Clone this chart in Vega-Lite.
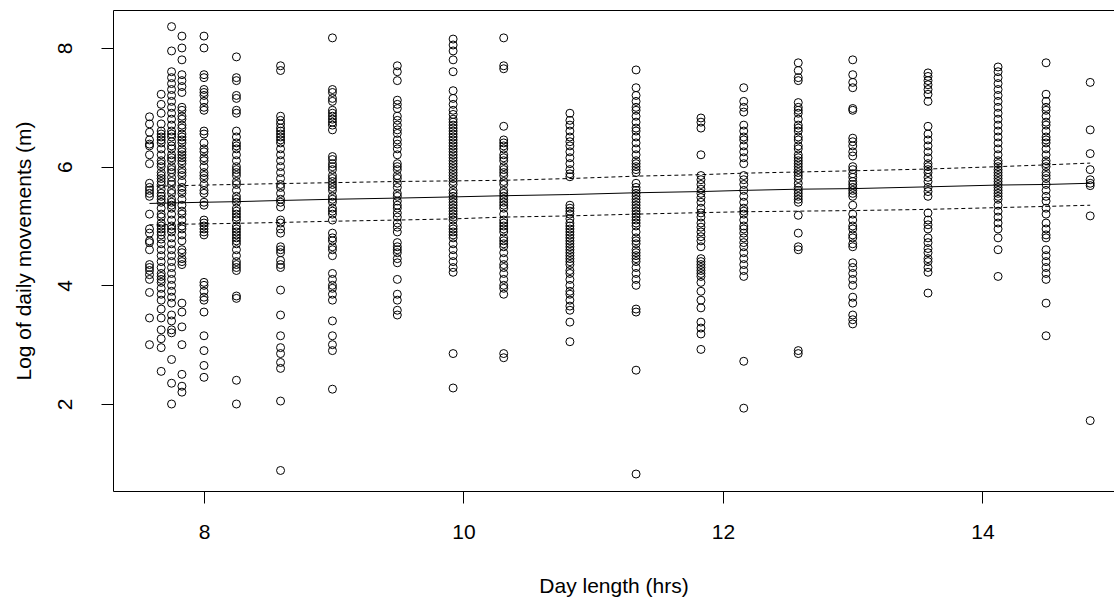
{
  "$schema": "https://vega.github.io/schema/vega-lite/v6.json",
  "width": 1001,
  "height": 481,
  "autosize": {"type": "none"},
  "padding": {"left": 113, "top": 10, "right": 0, "bottom": 109},
  "background": "white",
  "view": {"stroke": null},
  "config": {
    "view": {"stroke": null},
    "axis": {
      "grid": false,
      "domainColor": "black",
      "domainWidth": 1,
      "tickColor": "black",
      "tickWidth": 1,
      "tickSize": 12,
      "labelColor": "black",
      "titleColor": "black",
      "labelFont": "Liberation Sans",
      "titleFont": "Liberation Sans",
      "labelFontSize": 21,
      "titleFontSize": 21,
      "titleFontWeight": "normal"
    }
  },
  "datasets": {
    "pts": [
      {"day":7.58,"move":6.84},{"day":7.58,"move":6.72},{"day":7.58,"move":6.58},{"day":7.58,"move":6.45},{"day":7.58,"move":6.38},{"day":7.58,"move":6.35},{"day":7.58,"move":6.2},{"day":7.58,"move":6.05},{"day":7.58,"move":5.72},{"day":7.58,"move":5.65},{"day":7.58,"move":5.6},{"day":7.58,"move":5.55},{"day":7.58,"move":5.5},{"day":7.58,"move":5.2},{"day":7.58,"move":4.95},{"day":7.58,"move":4.88},{"day":7.58,"move":4.75},{"day":7.58,"move":4.72},{"day":7.58,"move":4.6},{"day":7.58,"move":4.35},{"day":7.58,"move":4.3},{"day":7.58,"move":4.25},{"day":7.58,"move":4.18},{"day":7.58,"move":4.1},{"day":7.58,"move":3.88},{"day":7.58,"move":3.45},{"day":7.58,"move":3.0},
      {"day":7.67,"move":7.22},{"day":7.67,"move":7.05},{"day":7.67,"move":6.9},{"day":7.67,"move":6.72},{"day":7.67,"move":6.6},{"day":7.67,"move":6.55},{"day":7.67,"move":6.5},{"day":7.67,"move":6.45},{"day":7.67,"move":6.4},{"day":7.67,"move":6.3},{"day":7.67,"move":6.2},{"day":7.67,"move":6.1},{"day":7.67,"move":6.05},{"day":7.67,"move":6.0},{"day":7.67,"move":5.9},{"day":7.67,"move":5.85},{"day":7.67,"move":5.8},{"day":7.67,"move":5.75},{"day":7.67,"move":5.7},{"day":7.67,"move":5.62},{"day":7.67,"move":5.55},{"day":7.67,"move":5.5},{"day":7.67,"move":5.45},{"day":7.67,"move":5.4},{"day":7.67,"move":5.3},{"day":7.67,"move":5.2},{"day":7.67,"move":5.15},{"day":7.67,"move":5.05},{"day":7.67,"move":5.0},{"day":7.67,"move":4.95},{"day":7.67,"move":4.9},{"day":7.67,"move":4.85},{"day":7.67,"move":4.78},{"day":7.67,"move":4.7},{"day":7.67,"move":4.6},{"day":7.67,"move":4.5},{"day":7.67,"move":4.4},{"day":7.67,"move":4.3},{"day":7.67,"move":4.2},{"day":7.67,"move":4.15},{"day":7.67,"move":4.1},{"day":7.67,"move":4.05},{"day":7.67,"move":3.95},{"day":7.67,"move":3.85},{"day":7.67,"move":3.75},{"day":7.67,"move":3.6},{"day":7.67,"move":3.45},{"day":7.67,"move":3.25},{"day":7.67,"move":3.1},{"day":7.67,"move":2.95},{"day":7.67,"move":2.55},
      {"day":7.75,"move":8.36},{"day":7.75,"move":7.95},{"day":7.75,"move":7.6},{"day":7.75,"move":7.5},{"day":7.75,"move":7.4},{"day":7.75,"move":7.3},{"day":7.75,"move":7.2},{"day":7.75,"move":7.1},{"day":7.75,"move":7.0},{"day":7.75,"move":6.9},{"day":7.75,"move":6.8},{"day":7.75,"move":6.7},{"day":7.75,"move":6.6},{"day":7.75,"move":6.55},{"day":7.75,"move":6.5},{"day":7.75,"move":6.42},{"day":7.75,"move":6.35},{"day":7.75,"move":6.3},{"day":7.75,"move":6.2},{"day":7.75,"move":6.15},{"day":7.75,"move":6.1},{"day":7.75,"move":6.0},{"day":7.75,"move":5.95},{"day":7.75,"move":5.9},{"day":7.75,"move":5.82},{"day":7.75,"move":5.75},{"day":7.75,"move":5.7},{"day":7.75,"move":5.6},{"day":7.75,"move":5.55},{"day":7.75,"move":5.45},{"day":7.75,"move":5.4},{"day":7.75,"move":5.35},{"day":7.75,"move":5.3},{"day":7.75,"move":5.2},{"day":7.75,"move":5.1},{"day":7.75,"move":5.0},{"day":7.75,"move":4.95},{"day":7.75,"move":4.9},{"day":7.75,"move":4.8},{"day":7.75,"move":4.7},{"day":7.75,"move":4.6},{"day":7.75,"move":4.5},{"day":7.75,"move":4.4},{"day":7.75,"move":4.3},{"day":7.75,"move":4.2},{"day":7.75,"move":4.1},{"day":7.75,"move":4.0},{"day":7.75,"move":3.9},{"day":7.75,"move":3.8},{"day":7.75,"move":3.7},{"day":7.75,"move":3.5},{"day":7.75,"move":3.4},{"day":7.75,"move":3.25},{"day":7.75,"move":3.2},{"day":7.75,"move":2.75},{"day":7.75,"move":2.35},{"day":7.75,"move":2.0},
      {"day":7.83,"move":8.2},{"day":7.83,"move":8.0},{"day":7.83,"move":7.8},{"day":7.83,"move":7.55},{"day":7.83,"move":7.45},{"day":7.83,"move":7.35},{"day":7.83,"move":7.25},{"day":7.83,"move":7.0},{"day":7.83,"move":6.95},{"day":7.83,"move":6.85},{"day":7.83,"move":6.8},{"day":7.83,"move":6.7},{"day":7.83,"move":6.65},{"day":7.83,"move":6.55},{"day":7.83,"move":6.5},{"day":7.83,"move":6.45},{"day":7.83,"move":6.4},{"day":7.83,"move":6.3},{"day":7.83,"move":6.25},{"day":7.83,"move":6.2},{"day":7.83,"move":6.15},{"day":7.83,"move":6.1},{"day":7.83,"move":6.05},{"day":7.83,"move":5.95},{"day":7.83,"move":5.9},{"day":7.83,"move":5.85},{"day":7.83,"move":5.75},{"day":7.83,"move":5.65},{"day":7.83,"move":5.6},{"day":7.83,"move":5.55},{"day":7.83,"move":5.45},{"day":7.83,"move":5.35},{"day":7.83,"move":5.25},{"day":7.83,"move":5.2},{"day":7.83,"move":5.1},{"day":7.83,"move":5.0},{"day":7.83,"move":4.95},{"day":7.83,"move":4.85},{"day":7.83,"move":4.75},{"day":7.83,"move":4.6},{"day":7.83,"move":4.55},{"day":7.83,"move":4.45},{"day":7.83,"move":4.4},{"day":7.83,"move":4.35},{"day":7.83,"move":3.7},{"day":7.83,"move":3.55},{"day":7.83,"move":3.3},{"day":7.83,"move":3.0},{"day":7.83,"move":2.5},{"day":7.83,"move":2.3},{"day":7.83,"move":2.2},
      {"day":8.0,"move":8.2},{"day":8.0,"move":8.0},{"day":8.0,"move":7.55},{"day":8.0,"move":7.5},{"day":8.0,"move":7.3},{"day":8.0,"move":7.25},{"day":8.0,"move":7.2},{"day":8.0,"move":7.1},{"day":8.0,"move":7.0},{"day":8.0,"move":6.95},{"day":8.0,"move":6.6},{"day":8.0,"move":6.55},{"day":8.0,"move":6.4},{"day":8.0,"move":6.3},{"day":8.0,"move":6.25},{"day":8.0,"move":6.15},{"day":8.0,"move":6.1},{"day":8.0,"move":6.0},{"day":8.0,"move":5.9},{"day":8.0,"move":5.85},{"day":8.0,"move":5.8},{"day":8.0,"move":5.7},{"day":8.0,"move":5.6},{"day":8.0,"move":5.55},{"day":8.0,"move":5.4},{"day":8.0,"move":5.35},{"day":8.0,"move":5.1},{"day":8.0,"move":5.05},{"day":8.0,"move":5.0},{"day":8.0,"move":4.95},{"day":8.0,"move":4.9},{"day":8.0,"move":4.85},{"day":8.0,"move":4.05},{"day":8.0,"move":4.0},{"day":8.0,"move":3.9},{"day":8.0,"move":3.8},{"day":8.0,"move":3.75},{"day":8.0,"move":3.55},{"day":8.0,"move":3.15},{"day":8.0,"move":2.9},{"day":8.0,"move":2.65},{"day":8.0,"move":2.45},
      {"day":8.25,"move":7.85},{"day":8.25,"move":7.5},{"day":8.25,"move":7.45},{"day":8.25,"move":7.2},{"day":8.25,"move":7.15},{"day":8.25,"move":6.95},{"day":8.25,"move":6.9},{"day":8.25,"move":6.6},{"day":8.25,"move":6.5},{"day":8.25,"move":6.4},{"day":8.25,"move":6.35},{"day":8.25,"move":6.3},{"day":8.25,"move":6.2},{"day":8.25,"move":6.1},{"day":8.25,"move":6.0},{"day":8.25,"move":5.95},{"day":8.25,"move":5.9},{"day":8.25,"move":5.85},{"day":8.25,"move":5.75},{"day":8.25,"move":5.7},{"day":8.25,"move":5.6},{"day":8.25,"move":5.5},{"day":8.25,"move":5.45},{"day":8.25,"move":5.4},{"day":8.25,"move":5.3},{"day":8.25,"move":5.25},{"day":8.25,"move":5.2},{"day":8.25,"move":5.15},{"day":8.25,"move":5.1},{"day":8.25,"move":5.0},{"day":8.25,"move":4.95},{"day":8.25,"move":4.9},{"day":8.25,"move":4.85},{"day":8.25,"move":4.8},{"day":8.25,"move":4.75},{"day":8.25,"move":4.7},{"day":8.25,"move":4.6},{"day":8.25,"move":4.5},{"day":8.25,"move":4.4},{"day":8.25,"move":4.35},{"day":8.25,"move":4.3},{"day":8.25,"move":4.25},{"day":8.25,"move":3.82},{"day":8.25,"move":3.78},{"day":8.25,"move":2.4},{"day":8.25,"move":2.0},
      {"day":8.59,"move":7.7},{"day":8.59,"move":7.62},{"day":8.59,"move":6.85},{"day":8.59,"move":6.78},{"day":8.59,"move":6.72},{"day":8.59,"move":6.65},{"day":8.59,"move":6.6},{"day":8.59,"move":6.55},{"day":8.59,"move":6.5},{"day":8.59,"move":6.45},{"day":8.59,"move":6.4},{"day":8.59,"move":6.3},{"day":8.59,"move":6.2},{"day":8.59,"move":6.1},{"day":8.59,"move":6.0},{"day":8.59,"move":5.9},{"day":8.59,"move":5.8},{"day":8.59,"move":5.7},{"day":8.59,"move":5.65},{"day":8.59,"move":5.55},{"day":8.59,"move":5.45},{"day":8.59,"move":5.4},{"day":8.59,"move":5.32},{"day":8.59,"move":5.1},{"day":8.59,"move":5.05},{"day":8.59,"move":4.95},{"day":8.59,"move":4.88},{"day":8.59,"move":4.65},{"day":8.59,"move":4.6},{"day":8.59,"move":4.55},{"day":8.59,"move":4.42},{"day":8.59,"move":4.35},{"day":8.59,"move":4.3},{"day":8.59,"move":3.92},{"day":8.59,"move":3.5},{"day":8.59,"move":3.15},{"day":8.59,"move":2.95},{"day":8.59,"move":2.85},{"day":8.59,"move":2.7},{"day":8.59,"move":2.6},{"day":8.59,"move":2.05},{"day":8.59,"move":0.88},
      {"day":8.99,"move":8.17},{"day":8.99,"move":7.3},{"day":8.99,"move":7.25},{"day":8.99,"move":7.15},{"day":8.99,"move":7.1},{"day":8.99,"move":6.95},{"day":8.99,"move":6.9},{"day":8.99,"move":6.85},{"day":8.99,"move":6.8},{"day":8.99,"move":6.75},{"day":8.99,"move":6.7},{"day":8.99,"move":6.62},{"day":8.99,"move":6.17},{"day":8.99,"move":6.12},{"day":8.99,"move":6.05},{"day":8.99,"move":6.0},{"day":8.99,"move":5.95},{"day":8.99,"move":5.85},{"day":8.99,"move":5.8},{"day":8.99,"move":5.75},{"day":8.99,"move":5.7},{"day":8.99,"move":5.65},{"day":8.99,"move":5.6},{"day":8.99,"move":5.5},{"day":8.99,"move":5.45},{"day":8.99,"move":5.4},{"day":8.99,"move":5.3},{"day":8.99,"move":5.25},{"day":8.99,"move":5.2},{"day":8.99,"move":5.1},{"day":8.99,"move":4.88},{"day":8.99,"move":4.8},{"day":8.99,"move":4.75},{"day":8.99,"move":4.65},{"day":8.99,"move":4.6},{"day":8.99,"move":4.5},{"day":8.99,"move":4.2},{"day":8.99,"move":4.1},{"day":8.99,"move":4.0},{"day":8.99,"move":3.95},{"day":8.99,"move":3.85},{"day":8.99,"move":3.75},{"day":8.99,"move":3.4},{"day":8.99,"move":3.15},{"day":8.99,"move":3.0},{"day":8.99,"move":2.9},{"day":8.99,"move":2.25},
      {"day":9.49,"move":7.7},{"day":9.49,"move":7.6},{"day":9.49,"move":7.45},{"day":9.49,"move":7.12},{"day":9.49,"move":7.05},{"day":9.49,"move":6.98},{"day":9.49,"move":6.85},{"day":9.49,"move":6.78},{"day":9.49,"move":6.7},{"day":9.49,"move":6.62},{"day":9.49,"move":6.56},{"day":9.49,"move":6.45},{"day":9.49,"move":6.38},{"day":9.49,"move":6.3},{"day":9.49,"move":6.2},{"day":9.49,"move":6.05},{"day":9.49,"move":6.0},{"day":9.49,"move":5.95},{"day":9.49,"move":5.85},{"day":9.49,"move":5.8},{"day":9.49,"move":5.72},{"day":9.49,"move":5.65},{"day":9.49,"move":5.55},{"day":9.49,"move":5.5},{"day":9.49,"move":5.42},{"day":9.49,"move":5.35},{"day":9.49,"move":5.3},{"day":9.49,"move":5.22},{"day":9.49,"move":5.15},{"day":9.49,"move":5.05},{"day":9.49,"move":4.98},{"day":9.49,"move":4.9},{"day":9.49,"move":4.72},{"day":9.49,"move":4.65},{"day":9.49,"move":4.6},{"day":9.49,"move":4.55},{"day":9.49,"move":4.45},{"day":9.49,"move":4.38},{"day":9.49,"move":4.1},{"day":9.49,"move":3.85},{"day":9.49,"move":3.75},{"day":9.49,"move":3.58},{"day":9.49,"move":3.5},
      {"day":9.92,"move":8.15},{"day":9.92,"move":8.05},{"day":9.92,"move":7.95},{"day":9.92,"move":7.8},{"day":9.92,"move":7.6},{"day":9.92,"move":7.28},{"day":9.92,"move":7.15},{"day":9.92,"move":7.05},{"day":9.92,"move":6.95},{"day":9.92,"move":6.88},{"day":9.92,"move":6.8},{"day":9.92,"move":6.75},{"day":9.92,"move":6.7},{"day":9.92,"move":6.65},{"day":9.92,"move":6.6},{"day":9.92,"move":6.55},{"day":9.92,"move":6.5},{"day":9.92,"move":6.45},{"day":9.92,"move":6.4},{"day":9.92,"move":6.35},{"day":9.92,"move":6.3},{"day":9.92,"move":6.25},{"day":9.92,"move":6.2},{"day":9.92,"move":6.15},{"day":9.92,"move":6.1},{"day":9.92,"move":6.05},{"day":9.92,"move":6.0},{"day":9.92,"move":5.95},{"day":9.92,"move":5.9},{"day":9.92,"move":5.85},{"day":9.92,"move":5.8},{"day":9.92,"move":5.75},{"day":9.92,"move":5.7},{"day":9.92,"move":5.6},{"day":9.92,"move":5.55},{"day":9.92,"move":5.5},{"day":9.92,"move":5.45},{"day":9.92,"move":5.4},{"day":9.92,"move":5.35},{"day":9.92,"move":5.3},{"day":9.92,"move":5.25},{"day":9.92,"move":5.2},{"day":9.92,"move":5.15},{"day":9.92,"move":5.1},{"day":9.92,"move":5.0},{"day":9.92,"move":4.95},{"day":9.92,"move":4.9},{"day":9.92,"move":4.85},{"day":9.92,"move":4.8},{"day":9.92,"move":4.7},{"day":9.92,"move":4.6},{"day":9.92,"move":4.5},{"day":9.92,"move":4.4},{"day":9.92,"move":4.3},{"day":9.92,"move":4.22},{"day":9.92,"move":2.85},{"day":9.92,"move":2.27},
      {"day":10.31,"move":8.17},{"day":10.31,"move":7.7},{"day":10.31,"move":7.65},{"day":10.31,"move":6.68},{"day":10.31,"move":6.45},{"day":10.31,"move":6.4},{"day":10.31,"move":6.35},{"day":10.31,"move":6.3},{"day":10.31,"move":6.2},{"day":10.31,"move":6.15},{"day":10.31,"move":6.1},{"day":10.31,"move":6.0},{"day":10.31,"move":5.95},{"day":10.31,"move":5.9},{"day":10.31,"move":5.85},{"day":10.31,"move":5.75},{"day":10.31,"move":5.7},{"day":10.31,"move":5.6},{"day":10.31,"move":5.55},{"day":10.31,"move":5.5},{"day":10.31,"move":5.45},{"day":10.31,"move":5.4},{"day":10.31,"move":5.35},{"day":10.31,"move":5.3},{"day":10.31,"move":5.2},{"day":10.31,"move":5.1},{"day":10.31,"move":5.05},{"day":10.31,"move":5.0},{"day":10.31,"move":4.95},{"day":10.31,"move":4.9},{"day":10.31,"move":4.8},{"day":10.31,"move":4.75},{"day":10.31,"move":4.7},{"day":10.31,"move":4.65},{"day":10.31,"move":4.55},{"day":10.31,"move":4.45},{"day":10.31,"move":4.35},{"day":10.31,"move":4.3},{"day":10.31,"move":4.2},{"day":10.31,"move":4.1},{"day":10.31,"move":4.0},{"day":10.31,"move":3.95},{"day":10.31,"move":3.85},{"day":10.31,"move":2.85},{"day":10.31,"move":2.78},
      {"day":10.82,"move":6.9},{"day":10.82,"move":6.78},{"day":10.82,"move":6.7},{"day":10.82,"move":6.6},{"day":10.82,"move":6.5},{"day":10.82,"move":6.42},{"day":10.82,"move":6.35},{"day":10.82,"move":6.25},{"day":10.82,"move":6.15},{"day":10.82,"move":6.05},{"day":10.82,"move":5.95},{"day":10.82,"move":5.88},{"day":10.82,"move":5.83},{"day":10.82,"move":5.35},{"day":10.82,"move":5.3},{"day":10.82,"move":5.25},{"day":10.82,"move":5.2},{"day":10.82,"move":5.12},{"day":10.82,"move":5.05},{"day":10.82,"move":5.0},{"day":10.82,"move":4.95},{"day":10.82,"move":4.9},{"day":10.82,"move":4.85},{"day":10.82,"move":4.8},{"day":10.82,"move":4.75},{"day":10.82,"move":4.7},{"day":10.82,"move":4.65},{"day":10.82,"move":4.6},{"day":10.82,"move":4.55},{"day":10.82,"move":4.5},{"day":10.82,"move":4.45},{"day":10.82,"move":4.4},{"day":10.82,"move":4.35},{"day":10.82,"move":4.25},{"day":10.82,"move":4.2},{"day":10.82,"move":4.1},{"day":10.82,"move":4.0},{"day":10.82,"move":3.9},{"day":10.82,"move":3.85},{"day":10.82,"move":3.75},{"day":10.82,"move":3.65},{"day":10.82,"move":3.58},{"day":10.82,"move":3.38},{"day":10.82,"move":3.05},
      {"day":11.33,"move":7.63},{"day":11.33,"move":7.33},{"day":11.33,"move":7.2},{"day":11.33,"move":7.1},{"day":11.33,"move":7.0},{"day":11.33,"move":6.95},{"day":11.33,"move":6.85},{"day":11.33,"move":6.75},{"day":11.33,"move":6.65},{"day":11.33,"move":6.6},{"day":11.33,"move":6.5},{"day":11.33,"move":6.4},{"day":11.33,"move":6.3},{"day":11.33,"move":6.2},{"day":11.33,"move":6.1},{"day":11.33,"move":6.05},{"day":11.33,"move":6.0},{"day":11.33,"move":5.95},{"day":11.33,"move":5.9},{"day":11.33,"move":5.72},{"day":11.33,"move":5.65},{"day":11.33,"move":5.6},{"day":11.33,"move":5.55},{"day":11.33,"move":5.5},{"day":11.33,"move":5.45},{"day":11.33,"move":5.4},{"day":11.33,"move":5.35},{"day":11.33,"move":5.3},{"day":11.33,"move":5.25},{"day":11.33,"move":5.2},{"day":11.33,"move":5.15},{"day":11.33,"move":5.1},{"day":11.33,"move":5.05},{"day":11.33,"move":5.0},{"day":11.33,"move":4.9},{"day":11.33,"move":4.8},{"day":11.33,"move":4.75},{"day":11.33,"move":4.7},{"day":11.33,"move":4.6},{"day":11.33,"move":4.55},{"day":11.33,"move":4.5},{"day":11.33,"move":4.45},{"day":11.33,"move":4.4},{"day":11.33,"move":4.3},{"day":11.33,"move":4.2},{"day":11.33,"move":4.1},{"day":11.33,"move":4.0},{"day":11.33,"move":3.6},{"day":11.33,"move":3.55},{"day":11.33,"move":2.57},{"day":11.33,"move":0.82},
      {"day":11.83,"move":6.82},{"day":11.83,"move":6.75},{"day":11.83,"move":6.65},{"day":11.83,"move":6.2},{"day":11.83,"move":5.85},{"day":11.83,"move":5.78},{"day":11.83,"move":5.7},{"day":11.83,"move":5.62},{"day":11.83,"move":5.55},{"day":11.83,"move":5.48},{"day":11.83,"move":5.4},{"day":11.83,"move":5.3},{"day":11.83,"move":5.22},{"day":11.83,"move":5.15},{"day":11.83,"move":5.05},{"day":11.83,"move":4.98},{"day":11.83,"move":4.9},{"day":11.83,"move":4.82},{"day":11.83,"move":4.75},{"day":11.83,"move":4.65},{"day":11.83,"move":4.45},{"day":11.83,"move":4.4},{"day":11.83,"move":4.35},{"day":11.83,"move":4.3},{"day":11.83,"move":4.25},{"day":11.83,"move":4.2},{"day":11.83,"move":4.15},{"day":11.83,"move":4.05},{"day":11.83,"move":3.9},{"day":11.83,"move":3.75},{"day":11.83,"move":3.62},{"day":11.83,"move":3.38},{"day":11.83,"move":3.28},{"day":11.83,"move":3.18},{"day":11.83,"move":2.92},
      {"day":12.16,"move":7.33},{"day":12.16,"move":7.1},{"day":12.16,"move":7.0},{"day":12.16,"move":6.92},{"day":12.16,"move":6.7},{"day":12.16,"move":6.6},{"day":12.16,"move":6.5},{"day":12.16,"move":6.45},{"day":12.16,"move":6.35},{"day":12.16,"move":6.25},{"day":12.16,"move":6.15},{"day":12.16,"move":6.05},{"day":12.16,"move":5.85},{"day":12.16,"move":5.78},{"day":12.16,"move":5.7},{"day":12.16,"move":5.6},{"day":12.16,"move":5.5},{"day":12.16,"move":5.4},{"day":12.16,"move":5.3},{"day":12.16,"move":5.25},{"day":12.16,"move":5.2},{"day":12.16,"move":5.1},{"day":12.16,"move":5.0},{"day":12.16,"move":4.95},{"day":12.16,"move":4.88},{"day":12.16,"move":4.8},{"day":12.16,"move":4.72},{"day":12.16,"move":4.65},{"day":12.16,"move":4.55},{"day":12.16,"move":4.45},{"day":12.16,"move":4.35},{"day":12.16,"move":4.25},{"day":12.16,"move":4.15},{"day":12.16,"move":2.72},{"day":12.16,"move":1.93},
      {"day":12.58,"move":7.75},{"day":12.58,"move":7.62},{"day":12.58,"move":7.5},{"day":12.58,"move":7.45},{"day":12.58,"move":7.08},{"day":12.58,"move":7.0},{"day":12.58,"move":6.95},{"day":12.58,"move":6.9},{"day":12.58,"move":6.8},{"day":12.58,"move":6.7},{"day":12.58,"move":6.65},{"day":12.58,"move":6.6},{"day":12.58,"move":6.5},{"day":12.58,"move":6.45},{"day":12.58,"move":6.35},{"day":12.58,"move":6.3},{"day":12.58,"move":6.2},{"day":12.58,"move":6.15},{"day":12.58,"move":6.1},{"day":12.58,"move":6.05},{"day":12.58,"move":6.0},{"day":12.58,"move":5.95},{"day":12.58,"move":5.9},{"day":12.58,"move":5.85},{"day":12.58,"move":5.8},{"day":12.58,"move":5.72},{"day":12.58,"move":5.65},{"day":12.58,"move":5.6},{"day":12.58,"move":5.55},{"day":12.58,"move":5.5},{"day":12.58,"move":5.45},{"day":12.58,"move":5.4},{"day":12.58,"move":5.18},{"day":12.58,"move":4.88},{"day":12.58,"move":4.65},{"day":12.58,"move":4.6},{"day":12.58,"move":2.9},{"day":12.58,"move":2.85},
      {"day":13.0,"move":7.8},{"day":13.0,"move":7.55},{"day":13.0,"move":7.42},{"day":13.0,"move":7.33},{"day":13.0,"move":6.98},{"day":13.0,"move":6.95},{"day":13.0,"move":6.48},{"day":13.0,"move":6.42},{"day":13.0,"move":6.35},{"day":13.0,"move":6.25},{"day":13.0,"move":6.18},{"day":13.0,"move":6.0},{"day":13.0,"move":5.95},{"day":13.0,"move":5.88},{"day":13.0,"move":5.82},{"day":13.0,"move":5.75},{"day":13.0,"move":5.7},{"day":13.0,"move":5.65},{"day":13.0,"move":5.6},{"day":13.0,"move":5.55},{"day":13.0,"move":5.5},{"day":13.0,"move":5.35},{"day":13.0,"move":5.2},{"day":13.0,"move":5.1},{"day":13.0,"move":5.0},{"day":13.0,"move":4.95},{"day":13.0,"move":4.85},{"day":13.0,"move":4.8},{"day":13.0,"move":4.7},{"day":13.0,"move":4.65},{"day":13.0,"move":4.38},{"day":13.0,"move":4.3},{"day":13.0,"move":4.2},{"day":13.0,"move":4.1},{"day":13.0,"move":4.0},{"day":13.0,"move":3.8},{"day":13.0,"move":3.7},{"day":13.0,"move":3.5},{"day":13.0,"move":3.42},{"day":13.0,"move":3.35},
      {"day":13.58,"move":7.58},{"day":13.58,"move":7.52},{"day":13.58,"move":7.45},{"day":13.58,"move":7.38},{"day":13.58,"move":7.3},{"day":13.58,"move":7.22},{"day":13.58,"move":7.1},{"day":13.58,"move":6.68},{"day":13.58,"move":6.55},{"day":13.58,"move":6.45},{"day":13.58,"move":6.35},{"day":13.58,"move":6.25},{"day":13.58,"move":6.15},{"day":13.58,"move":6.05},{"day":13.58,"move":6.0},{"day":13.58,"move":5.95},{"day":13.58,"move":5.9},{"day":13.58,"move":5.82},{"day":13.58,"move":5.75},{"day":13.58,"move":5.65},{"day":13.58,"move":5.58},{"day":13.58,"move":5.5},{"day":13.58,"move":5.22},{"day":13.58,"move":5.1},{"day":13.58,"move":5.02},{"day":13.58,"move":4.95},{"day":13.58,"move":4.8},{"day":13.58,"move":4.72},{"day":13.58,"move":4.62},{"day":13.58,"move":4.55},{"day":13.58,"move":4.45},{"day":13.58,"move":4.4},{"day":13.58,"move":4.3},{"day":13.58,"move":4.22},{"day":13.58,"move":3.87},
      {"day":14.12,"move":7.68},{"day":14.12,"move":7.6},{"day":14.12,"move":7.5},{"day":14.12,"move":7.4},{"day":14.12,"move":7.3},{"day":14.12,"move":7.2},{"day":14.12,"move":7.1},{"day":14.12,"move":7.0},{"day":14.12,"move":6.9},{"day":14.12,"move":6.8},{"day":14.12,"move":6.7},{"day":14.12,"move":6.6},{"day":14.12,"move":6.5},{"day":14.12,"move":6.4},{"day":14.12,"move":6.3},{"day":14.12,"move":6.2},{"day":14.12,"move":6.1},{"day":14.12,"move":6.05},{"day":14.12,"move":6.0},{"day":14.12,"move":5.95},{"day":14.12,"move":5.9},{"day":14.12,"move":5.85},{"day":14.12,"move":5.8},{"day":14.12,"move":5.75},{"day":14.12,"move":5.7},{"day":14.12,"move":5.65},{"day":14.12,"move":5.6},{"day":14.12,"move":5.55},{"day":14.12,"move":5.5},{"day":14.12,"move":5.45},{"day":14.12,"move":5.35},{"day":14.12,"move":5.25},{"day":14.12,"move":5.15},{"day":14.12,"move":5.05},{"day":14.12,"move":4.95},{"day":14.12,"move":4.8},{"day":14.12,"move":4.6},{"day":14.12,"move":4.15},
      {"day":14.49,"move":7.75},{"day":14.49,"move":7.22},{"day":14.49,"move":7.1},{"day":14.49,"move":7.0},{"day":14.49,"move":6.95},{"day":14.49,"move":6.85},{"day":14.49,"move":6.75},{"day":14.49,"move":6.7},{"day":14.49,"move":6.6},{"day":14.49,"move":6.5},{"day":14.49,"move":6.45},{"day":14.49,"move":6.4},{"day":14.49,"move":6.3},{"day":14.49,"move":6.2},{"day":14.49,"move":6.1},{"day":14.49,"move":6.05},{"day":14.49,"move":6.0},{"day":14.49,"move":5.9},{"day":14.49,"move":5.85},{"day":14.49,"move":5.8},{"day":14.49,"move":5.7},{"day":14.49,"move":5.6},{"day":14.49,"move":5.5},{"day":14.49,"move":5.42},{"day":14.49,"move":5.3},{"day":14.49,"move":5.2},{"day":14.49,"move":5.05},{"day":14.49,"move":4.95},{"day":14.49,"move":4.85},{"day":14.49,"move":4.8},{"day":14.49,"move":4.6},{"day":14.49,"move":4.5},{"day":14.49,"move":4.4},{"day":14.49,"move":4.3},{"day":14.49,"move":4.2},{"day":14.49,"move":4.1},{"day":14.49,"move":3.7},{"day":14.49,"move":3.15},
      {"day":14.83,"move":7.42},{"day":14.83,"move":6.62},{"day":14.83,"move":6.22},{"day":14.83,"move":5.95},{"day":14.83,"move":5.78},{"day":14.83,"move":5.72},{"day":14.83,"move":5.68},{"day":14.83,"move":5.17},{"day":14.83,"move":1.72}
    ],
    "fit": [
      {"day":7.58,"fit":5.38,"lwr":5.02,"upr":5.67},
      {"day":7.67,"fit":5.384,"lwr":5.02,"upr":5.672},
      {"day":7.75,"fit":5.388,"lwr":5.025,"upr":5.675},
      {"day":7.83,"fit":5.392,"lwr":5.03,"upr":5.68},
      {"day":8.0,"fit":5.40,"lwr":5.035,"upr":5.69},
      {"day":8.25,"fit":5.41,"lwr":5.045,"upr":5.70},
      {"day":8.59,"fit":5.43,"lwr":5.06,"upr":5.715},
      {"day":8.99,"fit":5.45,"lwr":5.08,"upr":5.73},
      {"day":9.49,"fit":5.47,"lwr":5.10,"upr":5.75},
      {"day":9.92,"fit":5.49,"lwr":5.12,"upr":5.76},
      {"day":10.31,"fit":5.51,"lwr":5.15,"upr":5.77},
      {"day":10.82,"fit":5.53,"lwr":5.17,"upr":5.80},
      {"day":11.33,"fit":5.56,"lwr":5.20,"upr":5.84},
      {"day":11.83,"fit":5.58,"lwr":5.225,"upr":5.865},
      {"day":12.16,"fit":5.60,"lwr":5.24,"upr":5.89},
      {"day":12.58,"fit":5.62,"lwr":5.25,"upr":5.91},
      {"day":13.0,"fit":5.63,"lwr":5.26,"upr":5.93},
      {"day":13.58,"fit":5.66,"lwr":5.28,"upr":5.96},
      {"day":14.12,"fit":5.69,"lwr":5.31,"upr":6.0},
      {"day":14.49,"fit":5.70,"lwr":5.33,"upr":6.03},
      {"day":14.83,"fit":5.72,"lwr":5.35,"upr":6.06}
    ]
  },
  "layer": [
    {
      "data": {"name": "pts"},
      "mark": {"type": "point", "shape": "circle", "filled": false, "stroke": "black", "strokeWidth": 1, "size": 64, "opacity": 1},
      "encoding": {
        "x": {
          "field": "day", "type": "quantitative",
          "scale": {"domain": [7.2987, 15.0135], "nice": false, "zero": false},
          "axis": {"orient": "bottom", "values": [8, 10, 12, 14], "format": "d", "title": "Day length (hrs)", "labelPadding": 18, "titlePadding": 33, "domain": true}
        },
        "y": {
          "field": "move", "type": "quantitative",
          "scale": {"domain": [0.534, 8.64], "nice": false, "zero": false},
          "axis": {"values": [2, 4, 6, 8], "format": "d", "title": "Log of daily movements (m)", "labelAngle": -90, "labelAlign": "center", "labelBaseline": "bottom", "labelPadding": 26, "titlePadding": 20, "domain": true}
        }
      }
    },
    {
      "data": {"name": "fit"},
      "mark": {"type": "line", "color": "black", "strokeWidth": 1},
      "encoding": {
        "x": {"field": "day", "type": "quantitative", "axis": null},
        "y": {"field": "fit", "type": "quantitative"}
      }
    },
    {
      "data": {"name": "fit"},
      "mark": {"type": "line", "color": "black", "strokeWidth": 1, "strokeDash": [4, 3]},
      "encoding": {
        "x": {"field": "day", "type": "quantitative", "axis": null},
        "y": {"field": "lwr", "type": "quantitative"}
      }
    },
    {
      "data": {"name": "fit"},
      "mark": {"type": "line", "color": "black", "strokeWidth": 1, "strokeDash": [4, 3]},
      "encoding": {
        "x": {"field": "day", "type": "quantitative", "axis": {"orient": "top", "labels": false, "ticks": false, "title": null, "domain": true}},
        "y": {"field": "upr", "type": "quantitative"}
      }
    }
  ],
  "resolve": {"axis": {"x": "independent"}}
}
